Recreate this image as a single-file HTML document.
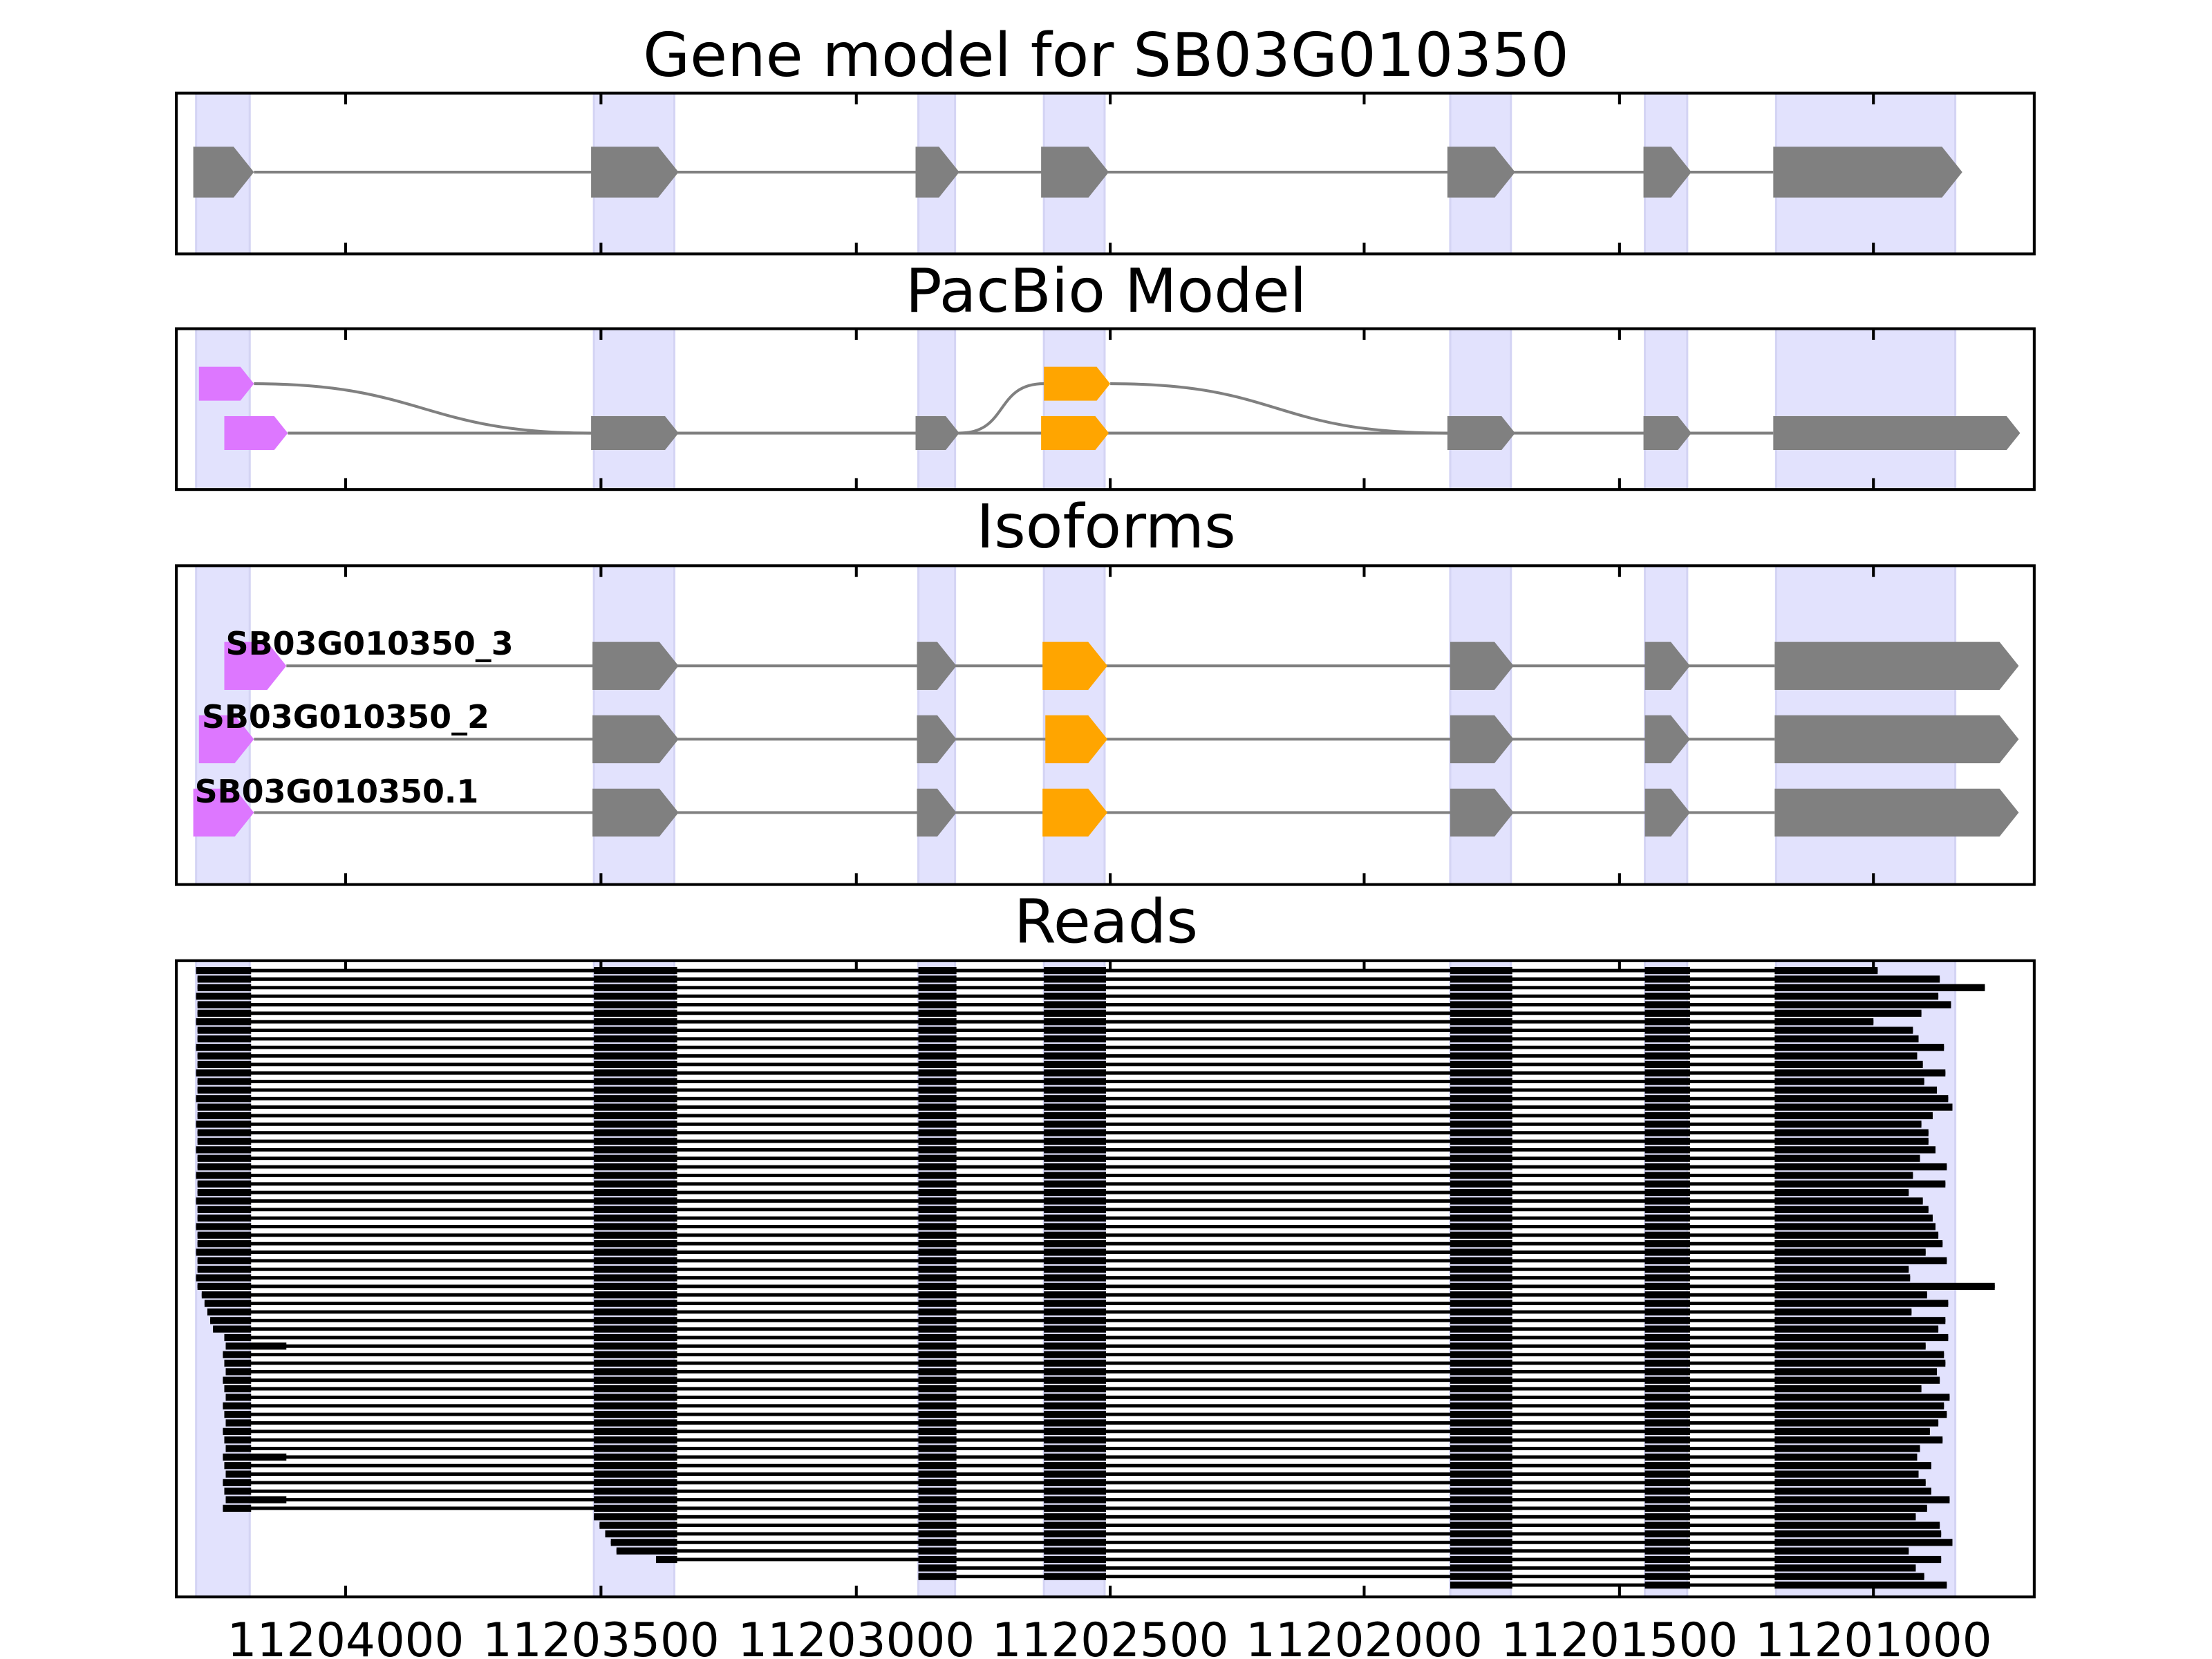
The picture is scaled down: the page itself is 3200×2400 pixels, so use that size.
<!DOCTYPE html>
<html><head><meta charset="utf-8"><style>html,body{margin:0;padding:0;background:#fff}svg{display:block}</style></head>
<body>
<svg id="s" width="3200" height="2400" viewBox="0 0 1568 1176" xmlns="http://www.w3.org/2000/svg" font-family="'DejaVu Sans','Liberation Sans',sans-serif">
<rect width="1568" height="1176" fill="#fff"/>
<g id="shade"></g>
<g id="content"></g>
<g id="frames" fill="none" stroke="#000" stroke-width="2"></g>
<g font-size="43" text-anchor="middle" fill="#000">
<text x="784" y="54">Gene model for SB03G010350</text>
<text x="784" y="221">PacBio Model</text>
<text x="784" y="388">Isoforms</text>
<text x="784" y="668">Reads</text>
</g>
<g font-size="33" text-anchor="middle" fill="#000">
<text x="245" y="1174">11204000</text>
<text x="426" y="1174">11203500</text>
<text x="607" y="1174">11203000</text>
<text x="787" y="1174">11202500</text>
<text x="967" y="1174">11202000</text>
<text x="1148" y="1174">11201500</text>
<text x="1328" y="1174">11201000</text>
</g>
<g font-size="22.5" font-weight="bold" fill="#000">
<text x="160" y="464">SB03G010350_3</text>
<text x="143" y="516">SB03G010350_2</text>
<text x="138" y="569">SB03G010350.1</text>
</g>
</svg>
<script>
const NS="http://www.w3.org/2000/svg";
function el(p,t,a){const e=document.createElementNS(NS,t);for(const k in a)e.setAttribute(k,a[k]);document.getElementById(p).appendChild(e);return e;}
const panels=[[66,180],[233,347],[401,627],[681,1132]];
const cols=[[139,177],[421,478],[651,677],[740,783],[1028,1071],[1166,1196],[1259,1386]];
const ticks=[245,426,607,787,967,1148,1328];
panels.forEach(([a,b])=>{
 cols.forEach(([x1,x2])=>el('shade','rect',{x:x1,y:a,width:x2-x1,height:b-a,fill:'#e2e2fd',stroke:'#d4d4f4','stroke-width':1.5}));
 el('frames','rect',{x:125,y:a,width:1317,height:b-a});
 ticks.forEach(t=>{el('frames','line',{x1:t,y1:b,x2:t,y2:b-8});el('frames','line',{x1:t,y1:a,x2:t,y2:a+8});});
});
function exon(x1,x2,y,h,c){const tip=Math.min(h*0.4,(x2-x1)*0.6);
 el('content','polygon',{points:`${x1},${y-h/2} ${x2-tip},${y-h/2} ${x2},${y} ${x2-tip},${y+h/2} ${x1},${y+h/2}`,fill:c});}
function line(x1,x2,y){el('content','line',{x1:x1,y1:y,x2:x2,y2:y,stroke:'#808080','stroke-width':2});}
const G='#808080',P='#dd77ff',O='#ffa500';
let gm=[[137,180],[419,481],[649,680],[738,786],[1026,1074],[1165,1199],[1257,1391]];
line(180,1257,122);gm.forEach(e=>exon(e[0],e[1],122,36,G));
line(204,1257,307);
el('content','path',{d:'M180,272 C300,272 300,307 419,307',fill:'none',stroke:G,'stroke-width':2});
el('content','path',{d:'M680,307 C715,307 705,272 740,272',fill:'none',stroke:G,'stroke-width':2});
el('content','path',{d:'M787,272 C910,272 900,307 1026,307',fill:'none',stroke:G,'stroke-width':2});
exon(141,180,272,24,P);exon(740,787,272,24,O);
exon(159,204,307,24,P);
[[419,481],[649,680],[1026,1074],[1165,1199],[1257,1432]].forEach(e=>exon(e[0],e[1],307,24,G));
exon(738,786,307,24,O);
const iso=[[472,[159,203],[739,785]],[524,[141,180],[741,785]],[576,[137,180],[739,785]]];
iso.forEach(([y,p,o])=>{line(p[1],1258,y);exon(p[0],p[1],y,34,P);
 [[420,481],[650,678],[1028,1073],[1166,1198],[1258,1431]].forEach(e=>exon(e[0],e[1],y,34,G));exon(o[0],o[1],y,34,O);});
const rc=[[139,178],[421,480],[651,678],[740,784],[1028,1072],[1166,1198]];
let seed=11;function rnd(){seed=(seed*9301+49297)%233280;return seed/233280;}
const N=73;
for(let i=0;i<N;i++){
 const y=688+i*6.05;
 let left;
 if(i<38)left=139+(i%3==0?0:1);else if(i<43)left=143+(i-38)*2;else if(i<64)left=158+(i%3);
 else if(i<69)left=421+(i-64)*4;else if(i<70)left=465;else if(i<72)left=651;else left=1028;
 let right;
 if(i==0)right=1331;else if(i==2)right=1407;else if(i==37)right=1414;else if(i==6)right=1328;else if(i==1)right=1375;
 else right=Math.round(1352+rnd()*34);
 let ext=(i==44||i==57||i==62);
 let segs=[];
 rc.forEach(([a,b])=>{if(b>left){let s=Math.max(a,left);let e=b;if(ext&&a==139)e=203;segs.push([s,e]);}});
 segs.push([1258,right]);
 el('content','rect',{x:segs[0][0],y:y-1.2,width:right-segs[0][0],height:2.4,fill:'#000'});
 segs.forEach(([a,b])=>el('content','rect',{x:a,y:y-2.5,width:b-a,height:5,fill:'#000'}));
}
</script>
</body></html>
